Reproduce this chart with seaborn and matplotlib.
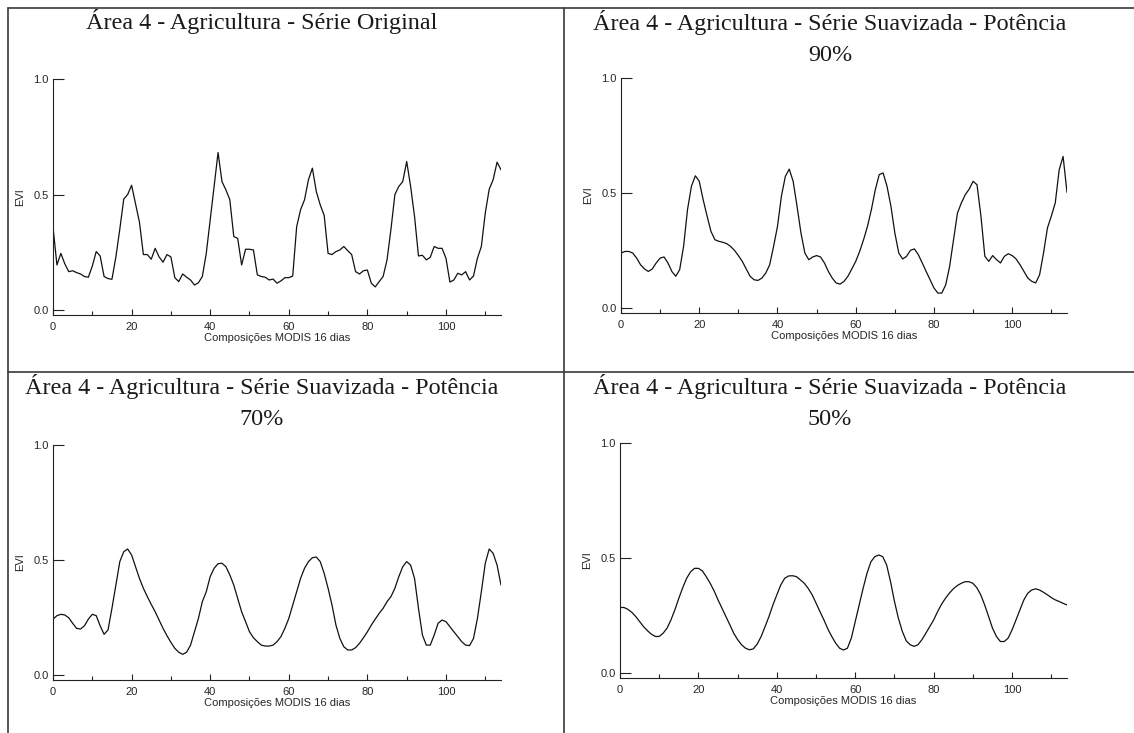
import numpy as np
import pandas as pd
import seaborn as sns
import matplotlib.pyplot as plt
from matplotlib.lines import Line2D
from matplotlib.ticker import MultipleLocator, FixedLocator

# composições MODIS de 16 dias (indice da serie)
composicoes = list(range(115))

# EVI - serie original
evi_original = [0.36, 0.195, 0.245, 0.2, 0.166, 0.17, 0.162, 0.156, 0.145, 0.142,
                0.19, 0.253, 0.234, 0.145, 0.136, 0.133, 0.23, 0.35, 0.48, 0.5,
                0.54, 0.46, 0.38, 0.24, 0.24, 0.22, 0.267, 0.23, 0.207, 0.24,
                0.23, 0.14, 0.123, 0.156, 0.142, 0.13, 0.108, 0.118, 0.145, 0.245,
                0.39, 0.535, 0.682, 0.556, 0.52, 0.477, 0.318, 0.31, 0.195, 0.263,
                0.263, 0.26, 0.152, 0.145, 0.142, 0.13, 0.134, 0.116, 0.126, 0.14,
                0.14, 0.147, 0.36, 0.434, 0.477, 0.564, 0.614, 0.513, 0.455, 0.41,
                0.245, 0.24, 0.253, 0.26, 0.275, 0.257, 0.24, 0.166, 0.156, 0.17,
                0.173, 0.116, 0.1, 0.123, 0.145, 0.217, 0.35, 0.5, 0.535, 0.556,
                0.643, 0.535, 0.405, 0.234, 0.237, 0.217, 0.228, 0.275, 0.267, 0.267,
                0.224, 0.121, 0.13, 0.159, 0.152, 0.166, 0.13, 0.147, 0.224, 0.275,
                0.42, 0.523, 0.564, 0.64, 0.607]

# EVI suavizado - potencia 90%
evi_90 = [0.239, 0.246, 0.246, 0.239, 0.217, 0.188, 0.17, 0.159, 0.17, 0.196,
          0.217, 0.222, 0.196, 0.159, 0.138, 0.167, 0.268, 0.428, 0.529, 0.575,
          0.551, 0.471, 0.4, 0.333, 0.297, 0.29, 0.286, 0.28, 0.268, 0.251,
          0.228, 0.203, 0.17, 0.138, 0.123, 0.12, 0.13, 0.152, 0.188, 0.268,
          0.355, 0.486, 0.572, 0.604, 0.551, 0.442, 0.326, 0.239, 0.21, 0.222,
          0.228, 0.222, 0.196, 0.159, 0.13, 0.109, 0.104, 0.116, 0.138, 0.17,
          0.203, 0.246, 0.297, 0.355, 0.428, 0.514, 0.58, 0.587, 0.529, 0.442,
          0.326, 0.239, 0.213, 0.225, 0.251, 0.257, 0.232, 0.196, 0.159, 0.123,
          0.087, 0.065, 0.065, 0.101, 0.181, 0.297, 0.413, 0.457, 0.493, 0.517,
          0.551, 0.536, 0.4, 0.225, 0.203, 0.228, 0.21, 0.196, 0.225, 0.236,
          0.228, 0.213, 0.188, 0.159, 0.13, 0.116, 0.109, 0.145, 0.239, 0.348,
          0.4, 0.457, 0.601, 0.659, 0.503]

# EVI suavizado - potencia 70%
evi_70 = [0.243, 0.258, 0.264, 0.261, 0.249, 0.225, 0.203, 0.2, 0.214, 0.243,
          0.264, 0.258, 0.214, 0.177, 0.196, 0.29, 0.391, 0.493, 0.536, 0.548,
          0.522, 0.471, 0.42, 0.377, 0.341, 0.307, 0.275, 0.239, 0.203, 0.171,
          0.142, 0.116, 0.099, 0.09, 0.099, 0.13, 0.188, 0.246, 0.319, 0.362,
          0.428, 0.464, 0.484, 0.486, 0.471, 0.435, 0.391, 0.333, 0.275, 0.232,
          0.188, 0.162, 0.145, 0.13, 0.126, 0.126, 0.13, 0.145, 0.167, 0.203,
          0.246, 0.304, 0.362, 0.42, 0.464, 0.493, 0.51, 0.513, 0.493, 0.442,
          0.377, 0.304, 0.217, 0.159, 0.123, 0.109, 0.109, 0.119, 0.138, 0.162,
          0.188, 0.217, 0.243, 0.268, 0.29, 0.319, 0.341, 0.377, 0.428, 0.471,
          0.493, 0.478, 0.42, 0.29, 0.174, 0.13, 0.13, 0.174, 0.225, 0.239,
          0.232, 0.21, 0.188, 0.167, 0.145, 0.13, 0.128, 0.159, 0.246, 0.362,
          0.486, 0.548, 0.529, 0.478, 0.391]

# EVI suavizado - potencia 50%
evi_50 = [0.285, 0.285, 0.277, 0.264, 0.246, 0.224, 0.202, 0.184, 0.169, 0.159,
          0.159, 0.173, 0.195, 0.231, 0.275, 0.325, 0.371, 0.412, 0.44, 0.455,
          0.455, 0.444, 0.419, 0.39, 0.357, 0.318, 0.282, 0.246, 0.21, 0.173,
          0.145, 0.123, 0.108, 0.101, 0.105, 0.126, 0.159, 0.202, 0.246, 0.296,
          0.34, 0.383, 0.412, 0.422, 0.423, 0.419, 0.405, 0.39, 0.368, 0.34,
          0.304, 0.267, 0.231, 0.192, 0.159, 0.13, 0.108, 0.1, 0.108, 0.152,
          0.224, 0.296, 0.368, 0.434, 0.484, 0.506, 0.513, 0.506, 0.47, 0.397,
          0.311, 0.238, 0.181, 0.14, 0.123, 0.116, 0.123, 0.145, 0.173, 0.202,
          0.231, 0.267, 0.299, 0.325, 0.347, 0.366, 0.38, 0.39, 0.397, 0.397,
          0.39, 0.371, 0.34, 0.296, 0.246, 0.195, 0.159, 0.137, 0.137, 0.152,
          0.188, 0.231, 0.275, 0.318, 0.347, 0.361, 0.366, 0.361, 0.351, 0.34,
          0.328, 0.318, 0.311, 0.303, 0.296]

titulos = [
    ["Área 4 - Agricultura - Série Original"],
    ["Área 4 - Agricultura - Série Suavizada - Potência", "90%"],
    ["Área 4 - Agricultura - Série Suavizada - Potência", "70%"],
    ["Área 4 - Agricultura - Série Suavizada - Potência", "50%"],
]
series = [evi_original, evi_90, evi_70, evi_50]

sns.set_style("ticks")
plt.rcParams['font.family'] = ['Liberation Sans', 'DejaVu Sans']

W, H = 1134, 733
fig = plt.figure(figsize=(W / 100, H / 100), dpi=100)


def rect(l, t, r, b):
    return [l / W, 1 - b / H, (r - l) / W, (b - t) / H]


# posicoes dos graficos em pixels (esq, topo, dir, base)
caixas = [(53, 79, 501, 315), (621, 78, 1067, 313),
          (53, 445, 501, 680), (620, 443, 1067, 678)]
centros_titulo = [(262, 29), (830, 30), (262, 394), (830, 394)]

for i in range(4):
    ax = fig.add_axes(rect(*caixas[i]))
    df = pd.DataFrame({"x": composicoes, "EVI": series[i]})
    sns.lineplot(data=df, x="x", y="EVI", ax=ax, color="#111111", linewidth=0.9)
    ax.set_xlim(0, 114)
    ax.set_ylim(-0.0216, 1.0)
    ax.xaxis.set_major_locator(FixedLocator([0, 20, 40, 60, 80, 100]))
    ax.xaxis.set_minor_locator(FixedLocator([10, 30, 50, 70, 90, 110]))
    ax.set_yticks([0.0, 0.5, 1.0])
    ax.set_yticklabels(["0.0", "0.5", "1.0"])
    ax.tick_params(axis="x", which="major", direction="in", length=4, width=0.8,
                   labelsize=8, pad=5, color="#222222")
    ax.tick_params(axis="x", which="minor", direction="in", length=3, width=0.8,
                   color="#222222")
    ax.tick_params(axis="y", direction="in", length=8, width=0.8,
                   labelsize=8, pad=3, color="#222222")
    for s in ["top", "right"]:
        ax.spines[s].set_visible(False)
    for s in ["left", "bottom"]:
        ax.spines[s].set_linewidth(0.8)
        ax.spines[s].set_color("#222222")
    ax.set_xlabel("Composições MODIS 16 dias", fontsize=8, labelpad=1)
    ax.set_ylabel("EVI", fontsize=8, labelpad=6)

    cx, cy = centros_titulo[i]
    for k, linha in enumerate(titulos[i]):
        fig.text(cx / W, 1 - (cy + 31 * k) / H, linha, ha="center", va="baseline",
                 fontsize=17.4, family=["Liberation Serif", "DejaVu Serif"],
                 color="#1a1a1a")

# bordas da tabela
cor_borda = "#3a3a3a"
fig.add_artist(Line2D([8 / W, 1], [1 - 8 / H, 1 - 8 / H], color=cor_borda, lw=1.2))
fig.add_artist(Line2D([8 / W, 1], [1 - 372 / H, 1 - 372 / H], color=cor_borda, lw=1.2))
fig.add_artist(Line2D([8 / W, 8 / W], [0, 1 - 8 / H], color=cor_borda, lw=1.2))
fig.add_artist(Line2D([564 / W, 564 / W], [0, 1 - 8 / H], color=cor_borda, lw=1.2))

fig.savefig("out.png", dpi=100, facecolor="white")
